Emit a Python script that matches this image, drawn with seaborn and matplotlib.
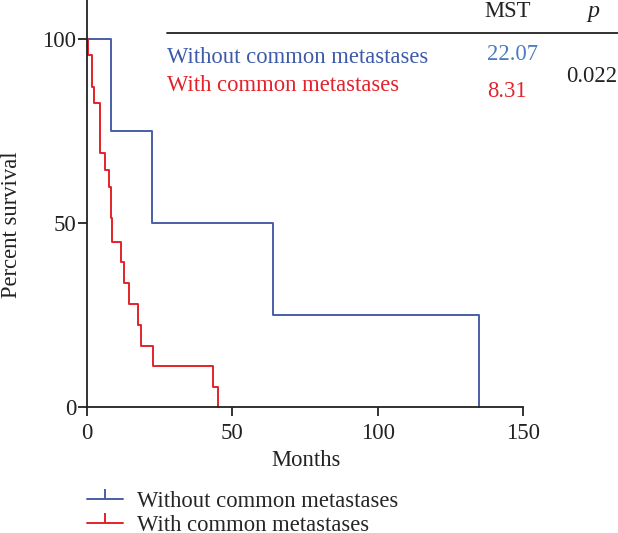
import numpy as np
import pandas as pd
import matplotlib
matplotlib.use("Agg")
import matplotlib.pyplot as plt
import seaborn as sns
from matplotlib.lines import Line2D

# ---- data ----
groups = ["Without common metastases", "With common metastases"]
blue_time = [0, 8.2, 22.2, 64.1, 134.9]
blue_surv = [100, 75, 50, 25, 0]
red_time = [0, 0.5, 1.8, 2.3, 4.4, 6.1, 7.4, 8.2, 8.6, 11.7, 12.8, 14.6, 17.4, 18.6, 22.6, 43.4, 45.0]
red_surv = [100, 95.7, 87.0, 82.6, 69.1, 64.4, 59.7, 51.4, 44.8, 39.3, 33.7, 28.0, 22.3, 16.7, 11.1, 5.4, 0]
mst = ["22.07", "8.31"]
p_value = "0.022"
x_ticks = [0, 50, 100, 150]
y_ticks = [0, 50, 100]

blue = "#4a5eaa"
red = "#e3222b"
blue_txt = "#3d5ba8"
blue_num = "#4a7cc0"

df = pd.concat([
    pd.DataFrame({"time": blue_time, "surv": blue_surv, "group": groups[0]}),
    pd.DataFrame({"time": red_time, "surv": red_surv, "group": groups[1]}),
], ignore_index=True)

sns.set_theme(style="ticks")
plt.rcParams["font.family"] = ["Liberation Serif", "DejaVu Serif"]
FS = 16.3
TFS = 16.5

fig = plt.figure(figsize=(6.18, 5.33), dpi=100)
W, H = 618, 533
ax = fig.add_axes([87 / W, 1 - 407 / H, (523 - 87) / W, 407 / H])

sns.lineplot(data=df, x="time", y="surv", hue="group", palette=[blue, red],
             drawstyle="steps-post", estimator=None, sort=False, linewidth=1.4,
             legend=False, ax=ax)

ax.set_xlim(0, 150)
ax.set_ylim(0, 110.6)
ax.set_xticks(x_ticks)
ax.set_yticks(y_ticks)
ax.set_xlabel("")
ax.set_ylabel("")
for s in ["top", "right"]:
    ax.spines[s].set_visible(False)
for s in ["left", "bottom"]:
    ax.spines[s].set_linewidth(1.3)
    ax.spines[s].set_color("#222222")
ax.spines["bottom"].set_bounds(0, 150)
ax.tick_params(axis="both", direction="out", length=6.2, width=1.3, color="#222222",
               labelsize=TFS, labelcolor="#222222")
ax.tick_params(axis="x", pad=5)
ax.tick_params(axis="y", pad=1.5)
for line in ax.lines:
    line.set_clip_on(False)

# axis labels
fig.text(306 / W, 1 - 460 / H, "Months", ha="center", va="center", fontsize=FS, color="#222222")
fig.text(12 / W, 1 - 225 / H, "Percent survival", ha="center", va="center", rotation=90,
         fontsize=FS, color="#222222")

# table in the top right
fig.text(508 / W, 1 - 17 / H, "MST", ha="center", va="baseline", fontsize=FS, color="#222222")
fig.text(593 / W, 1 - 17 / H, "p", ha="center", va="baseline", fontsize=FS + 1,
         style="italic", color="#222222")
fig.add_artist(Line2D([167 / W, 1.0], [1 - 33 / H, 1 - 33 / H], transform=fig.transFigure,
                      color="#222222", linewidth=1.3))
fig.text(167 / W, 1 - 63 / H, groups[0], ha="left", va="baseline", fontsize=FS, color=blue_txt)
fig.text(167 / W, 1 - 91 / H, groups[1], ha="left", va="baseline", fontsize=FS, color=red)
fig.text(487 / W, 1 - 60 / H, mst[0], ha="left", va="baseline", fontsize=FS, color=blue_num)
fig.text(487 / W, 1 - 97 / H, mst[1], ha="left", va="baseline", fontsize=FS, color=red)
fig.text(592 / W, 1 - 82 / H, p_value, ha="center", va="baseline", fontsize=FS, color="#222222")

# legend at the bottom
handles = [Line2D([], [], color=blue, linewidth=1.4, marker=2, markersize=7, markeredgewidth=1.4),
           Line2D([], [], color=red, linewidth=1.4, marker=2, markersize=7, markeredgewidth=1.4)]
fig.legend(handles, groups, loc="upper left", bbox_to_anchor=(87 / W, 1 - 491 / H),
           frameon=False, fontsize=FS, handlelength=1.6, handletextpad=0.6,
           labelspacing=0.12, borderpad=0, borderaxespad=0)

fig.savefig("out.png", dpi=100)
